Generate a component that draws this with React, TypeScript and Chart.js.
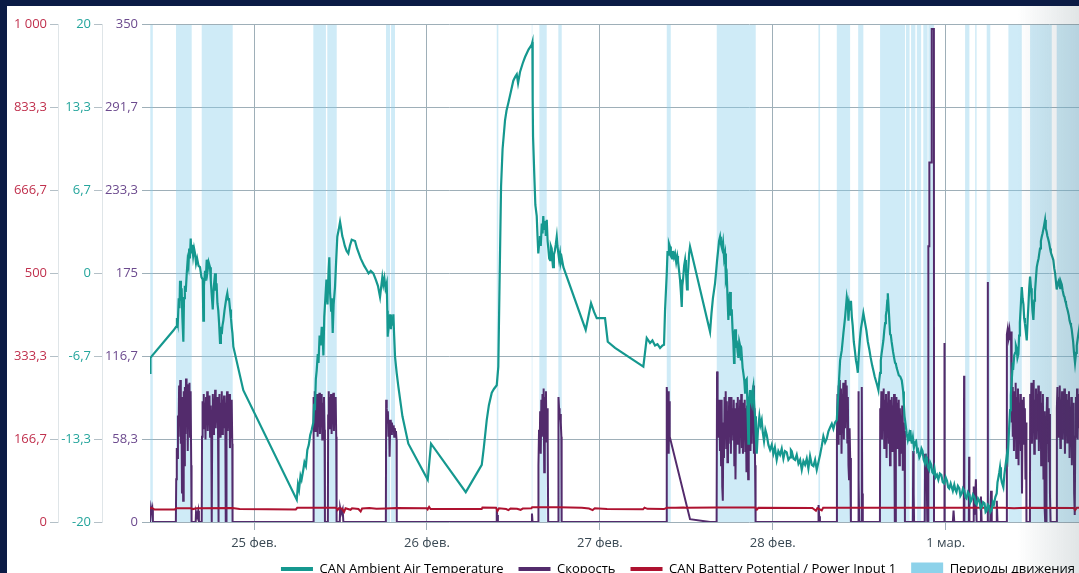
import React, { useEffect, useRef } from 'react';
import { Chart, registerables } from 'chart.js';

Chart.register(...registerables);

// ---- axis / tick data ----
const X_MIN = 9.56; // hours since 24 фев 00:00
const X_MAX = 175.99;
const CANVAS_W = 1342;
const dayTickValues = [24, 48, 72, 96, 120, 144, 168];
const dayTickLabels = ['25 фев.', '26 фев.', '27 фев.', '28 фев.', '1 мар.', '2 мар.', '3 мар.'];

const batteryTickValues = [0, 166.667, 333.333, 500, 666.667, 833.333, 1000];
const batteryTickLabels = ['0', '166,7', '333,3', '500', '666,7', '833,3', '1 000'];
const tempTickValues = [-20, -13.333, -6.667, 0, 6.667, 13.333, 20];
const tempTickLabels = ['-20', '-13,3', '-6,7', '0', '6,7', '13,3', '20'];
const speedTickValues = [0, 58.333, 116.667, 175, 233.333, 291.667, 350];
const speedTickLabels = ['0', '58,3', '116,7', '175', '233,3', '291,7', '350'];

const seriesNames = ['CAN Ambient Air Temperature', 'Скорость', 'CAN Battery Potential / Power Input 1', 'Периоды движения'];

// ---- series data: [hour, value] ----
const tempPoints: [number, number][] = [
  [9.56, -8.0], [9.62, -6.8], [9.75, -6.7], [12.8, -4.6], [13.17, -4.3], [13.3, -3.6], [13.42, -4.0], [13.55, -2.0], [13.65, -2.8], [13.73, -0.6], [13.85, -2.2], [13.95, -1.2], [14.05, -3.5], [14.19, -5.5], [14.28, -2.0], [14.4, -1.0], [14.52, -1.5], [14.66, 0.0], [14.78, 1.0], [14.9, 0.6], [15.0, 2.0], [15.1, 1.2], [15.21, 2.8], [15.3, 1.6], [15.42, 2.3], [15.55, 1.4], [15.68, 2.0], [15.81, 1.6], [15.95, 0.8], [16.1, 1.2], [16.3, 0.6], [16.5, 0.5], [16.7, -0.3], [16.88, -0.5], [16.96, -3.8], [17.05, -1.0], [17.2, 0.2], [17.3, -0.6], [17.43, 1.1], [17.55, 0.2], [17.7, 0.9], [17.89, 0.5], [18.0, -0.6], [18.1, -1.5], [18.27, -2.9], [18.4, -1.2], [18.59, 0.0], [18.7, -1.4], [18.8, -0.8], [18.92, -2.4], [19.04, -3.0], [19.15, -4.0], [19.28, -5.6], [19.4, -4.3], [19.52, -4.9], [19.62, -4.2], [19.74, -3.8], [19.9, -3.0], [20.05, -2.4], [20.18, -1.9], [20.29, -1.6], [20.4, -2.1], [20.52, -2.0], [20.67, -2.9], [20.8, -3.6], [20.92, -4.4], [21.0, -4.8], [21.13, -5.9], [22.51, -9.4], [29.93, -18.2],
  [30.1, -17.0], [30.25, -17.4], [30.45, -16.3], [30.6, -16.6], [30.84, -15.8], [31.0, -15.2], [31.2, -15.5], [31.4, -14.2], [31.6, -13.8], [31.8, -13.0], [32.0, -12.6], [32.23, -12.0], [32.35, -10.5], [32.45, -11.0], [32.58, -8.5], [32.7, -7.8], [32.85, -6.5], [32.95, -7.2], [33.1, -5.0], [33.25, -5.8], [33.4, -4.3], [33.52, -5.0], [33.63, -6.6], [33.75, -3.5], [33.9, -2.0], [34.05, -0.5], [34.2, -2.5], [34.35, 0.2], [34.45, 1.3], [34.55, -1.5], [34.7, -3.0], [34.8, -2.0], [34.92, -4.8], [35.05, -2.5], [35.24, -1.1], [35.4, 1.0], [35.56, 2.95], [35.75, 3.5], [35.94, 4.15], [36.1, 3.6], [36.25, 3.0], [36.4, 2.7], [36.6, 2.2], [36.85, 1.8], [37.09, 1.6], [37.3, 2.2], [37.56, 2.7], [38.02, 2.6], [38.3, 2.0], [38.8, 1.2], [39.3, 0.6], [39.64, 0.27], [39.9, 0.0], [40.2, 0.2], [40.56, 0.0], [40.9, -0.5], [41.2, -1.0], [41.49, -1.9],
  [41.81, -0.3], [41.95, -0.9], [42.1, -0.4], [42.25, -1.2], [42.42, -0.8], [42.5, -3.0], [42.56, -5.1], [42.65, -3.4], [42.75, -4.0], [42.88, -3.3], [43.0, -4.5], [43.1, -3.6], [43.2, -4.2], [43.34, -3.3], [43.45, -5.0], [43.57, -6.7], [43.8, -8.0], [44.03, -9.1], [44.6, -11.5], [45.42, -13.7], [48.11, -16.6], [48.57, -13.7], [53.39, -17.6], [55.61, -15.4], [55.9, -14.0], [56.3, -11.8], [56.6, -10.6], [57.0, -9.6], [57.3, -9.3], [57.69, -9.0], [57.91, -7.5], [58.05, -2.0], [58.29, 7.0], [58.5, 10.0], [58.84, 12.3], [59.05, 13.1], [59.3, 13.7], [59.65, 14.6], [59.99, 15.5], [60.25, 15.8], [60.47, 16.0], [60.65, 15.3], [60.92, 16.2], [61.3, 16.9], [61.62, 17.4], [62.1, 18.0], [62.55, 18.4], [62.64, 18.6], [62.68, 14.0], [62.73, 11.0], [62.91, 7.8], [63.05, 5.5], [63.24, 4.6], [63.35, 3.0], [63.46, 1.6], [63.58, 2.4], [63.69, 3.0], [63.8, 2.2], [63.94, 4.0], [64.05, 3.2], [64.15, 4.6], [64.26, 3.5], [64.4, 4.2], [64.5, 3.0], [64.63, 4.3], [64.75, 2.6], [64.85, 2.0], [64.97, 1.2], [65.09, 1.07], [65.2, 2.2], [65.32, 2.0], [65.42, 1.0], [65.5, 0.5], [65.62, 1.5], [65.75, 1.8], [65.88, 2.3], [66.02, 2.95], [66.12, 2.2], [66.2, 1.8], [66.35, 1.1], [66.48, 1.6], [66.6, 0.9], [66.72, 1.2], [66.94, 0.5], [70.04, -4.55], [70.78, -2.4], [71.2, -3.1], [71.57, -3.6], [72.72, -3.6], [73.1, -5.5], [74.11, -6.0], [78.04, -7.5],
  [78.51, -5.2], [78.97, -5.6], [79.3, -5.4], [79.66, -5.8], [80.0, -5.7], [80.36, -6.0], [80.7, -5.8], [80.91, -5.75], [81.05, -3.0], [81.29, 0.0], [81.4, 1.8], [81.47, 1.5], [81.6, 2.4], [81.74, 2.15], [81.85, 1.4], [82.02, 1.2], [82.15, 1.8], [82.3, 1.3], [82.44, 1.6], [82.6, 0.9], [82.75, 1.4], [82.85, 1.0], [83.0, 0.2], [83.13, -0.5], [83.25, -1.5], [83.37, -2.7], [83.45, -1.0], [83.55, -0.5], [83.7, 0.6], [83.83, 1.07], [83.95, 0.2], [84.1, -1.3], [84.2, -0.2], [84.29, 0.5], [84.4, 1.6], [84.52, 2.15], [87.3, -4.7], [87.5, -3.2], [87.7, -2.0], [87.99, -0.8], [88.15, 0.2], [88.27, 1.0], [88.45, 2.0], [88.55, 2.6], [88.69, 2.95], [88.8, 2.4], [88.97, 2.0], [89.1, 2.5], [89.25, 1.2], [89.38, 1.6], [89.5, -0.5], [89.62, -0.2], [89.74, -2.2], [89.84, -3.75], [89.95, -2.0], [90.07, -1.5], [90.18, -3.4], [90.31, -2.9], [90.42, -4.5], [90.53, -5.5], [90.63, -7.2], [90.7, -5.0], [90.77, -4.5], [90.9, -6.0], [91.0, -5.4], [91.12, -6.3], [91.23, -6.8], [91.35, -5.5], [91.46, -5.8], [91.58, -7.0], [91.7, -6.6], [91.82, -7.6], [91.92, -8.0], [92.05, -8.6], [92.16, -9.6], [92.28, -8.6], [92.39, -8.5], [92.5, -11.0], [92.62, -13.7], [92.7, -11.0], [92.76, -10.0], [92.85, -9.4], [92.97, -10.2], [93.09, -10.5], [93.2, -9.5], [93.31, -9.1], [93.42, -10.5], [93.54, -11.5], [93.66, -13.2], [93.78, -14.5], [93.95, -12.6], [94.15, -11.5], [94.3, -12.2], [94.47, -11.8], [94.62, -12.8], [94.79, -13.5], [94.98, -12.6], [95.17, -13.0], [95.4, -13.8], [95.63, -14.2], [95.86, -13.8], [96.09, -14.5], [96.3, -14.0], [96.55, -15.0], [96.78, -14.3], [97.02, -14.6], [97.25, -14.1], [97.48, -14.9], [97.7, -14.3], [97.94, -14.4], [98.17, -15.0], [98.4, -14.8], [98.52, -14.2], [98.64, -14.3], [98.87, -14.9], [99.1, -15.0], [99.33, -14.6], [99.57, -15.3], [99.8, -15.0], [100.03, -15.8], [100.26, -15.1], [100.49, -15.4], [100.72, -14.9], [100.95, -15.7], [101.18, -14.7], [101.42, -15.4], [101.65, -15.5], [101.88, -15.0], [102.11, -15.8], [102.34, -15.2], [102.57, -14.6], [102.8, -13.9], [103.03, -13.1], [103.27, -13.6], [103.5, -13.3], [103.73, -12.7], [103.96, -12.4], [104.2, -12.1], [104.42, -12.5], [104.65, -12.0], [104.89, -11.8], [105.12, -9.5], [105.35, -7.0], [105.58, -6.2], [105.81, -4.8], [106.05, -3.5], [106.28, -1.9],
  [106.42, -2.4], [106.51, -3.8], [106.62, -2.5], [106.74, -2.9], [106.86, -2.2], [106.98, -3.5], [107.1, -4.2], [107.25, -5.5], [107.4, -6.2], [107.55, -7.0], [107.68, -7.4], [107.81, -8.0], [107.95, -6.5], [108.1, -5.3], [108.25, -4.4], [108.4, -3.9], [108.58, -3.2], [108.7, -3.6], [108.82, -4.0], [109.0, -4.6], [109.2, -5.5], [109.4, -6.1], [109.6, -6.8], [109.8, -7.4], [110.0, -7.9], [110.15, -8.3], [110.3, -8.6], [110.5, -9.0], [110.67, -9.4], [110.8, -8.5], [110.9, -8.0], [111.0, -7.0], [111.1, -6.5], [111.22, -6.0], [111.36, -5.4], [111.48, -4.6], [111.6, -4.0], [111.7, -3.4], [111.8, -3.0], [111.9, -2.2], [111.97, -1.6], [112.05, -2.4], [112.15, -3.4], [112.29, -4.9], [112.4, -5.0], [112.5, -5.5], [112.6, -5.9], [112.7, -6.3], [112.85, -6.8], [112.98, -7.2], [113.1, -7.3], [113.2, -7.6], [113.35, -7.9], [113.5, -8.2], [113.7, -8.3], [113.91, -8.6], [114.0, -9.0], [114.1, -9.5], [114.2, -10.5], [114.3, -11.5], [114.45, -12.2], [114.6, -12.9], [114.75, -13.4], [114.9, -13.0], [115.0, -13.5], [115.1, -12.6], [115.2, -13.3], [115.3, -13.7], [115.45, -13.2], [115.6, -14.0], [115.75, -13.6], [115.9, -13.5], [116.05, -14.3], [116.17, -14.2], [116.35, -14.8], [116.5, -14.6], [116.65, -14.1], [116.8, -14.3], [116.95, -15.0], [117.14, -15.3], [117.3, -14.8], [117.4, -15.0], [117.55, -15.6], [117.7, -15.8], [117.85, -15.2], [118.0, -15.4], [118.15, -16.0], [118.3, -16.1], [118.45, -15.7], [118.6, -16.4], [118.8, -16.2], [118.99, -16.6], [119.2, -16.1], [119.4, -16.2], [119.6, -16.8], [119.8, -16.9], [120.0, -16.4], [120.2, -16.7], [120.35, -17.2], [120.5, -17.3], [120.7, -16.9], [120.85, -17.2], [121.0, -17.5], [121.2, -17.0], [121.35, -17.4], [121.5, -17.6], [121.7, -17.1], [121.9, -17.3], [122.05, -17.9], [122.24, -17.7], [122.4, -17.3], [122.6, -17.5], [122.75, -18.0], [122.9, -18.1], [123.1, -17.6], [123.3, -17.8], [123.45, -18.4], [123.62, -18.2], [123.8, -17.8], [124.0, -18.0], [124.15, -18.5], [124.3, -18.6], [124.5, -18.1], [124.7, -18.3], [124.85, -18.9], [125.01, -18.8], [125.2, -18.4], [125.4, -18.5], [125.55, -19.2], [125.7, -19.1], [125.85, -18.6], [126.0, -18.7], [126.2, -19.2], [126.4, -19.0], [126.55, -18.4], [126.7, -18.6], [126.9, -18.0], [127.09, -17.7], [127.2, -16.8], [127.3, -16.5], [127.45, -16.0], [127.55, -15.6], [127.68, -16.4], [127.8, -16.8], [128.01, -17.2], [128.15, -16.2], [128.3, -15.5], [128.5, -14.6], [128.6, -14.9], [128.71, -13.7], [128.85, -12.0], [128.95, -11.0], [129.05, -9.8], [129.18, -8.6], [129.3, -7.4], [129.4, -7.5], [129.52, -6.6], [129.64, -6.4], [129.75, -5.8], [129.85, -6.0], [129.97, -6.8], [130.1, -6.5], [130.2, -5.0], [130.3, -4.0], [130.45, -2.4], [130.57, -1.1], [130.68, -2.0], [130.8, -2.5], [130.9, -3.6], [131.0, -4.0], [131.12, -4.6], [131.26, -5.4], [131.38, -3.8], [131.5, -2.5], [131.6, -1.2], [131.72, -0.27], [131.85, -1.2], [131.95, -2.0], [132.05, -3.0], [132.18, -3.75], [132.3, -2.2], [132.4, -1.5], [132.52, -0.5], [132.65, 0.5], [132.78, 0.9], [132.9, 1.2], [133.0, 1.6], [133.1, 2.0], [133.22, 2.6], [133.34, 2.95], [133.45, 3.2], [133.55, 3.5], [133.68, 3.9], [133.8, 4.3], [133.9, 3.6], [134.0, 3.4], [134.12, 3.0], [134.26, 2.7], [134.38, 2.4], [134.5, 2.0], [134.6, 1.7], [134.7, 1.5], [134.82, 1.3], [134.95, 1.07], [135.08, 0.4], [135.2, 0.0], [135.32, -0.7], [135.42, -1.3], [135.55, -0.8], [135.7, -0.6], [135.8, -1.0], [135.9, -1.2], [136.0, -0.7], [136.12, -0.9], [136.25, -1.4], [136.4, -1.8], [136.5, -1.9], [136.6, -2.2], [136.7, -2.4], [136.81, -2.7], [136.95, -3.0], [137.1, -3.4], [137.2, -3.8], [137.3, -4.0], [137.4, -4.2], [137.5, -4.5], [137.6, -5.0], [137.7, -5.5], [137.82, -6.4], [137.96, -7.2], [138.1, -6.4], [138.2, -5.8], [138.3, -5.4], [138.42, -4.9], [138.8, -3.5], [139.3, -5.0], [140.5, -6.5], [142.0, -8.0],
];

const speedPoints: [number, number][] = [
  [9.56, 0], [9.68, 0], [9.7, 10], [9.8, 7], [9.88, 9], [9.96, 0],
  [13.15, 0], [13.2, 30], [13.28, 52], [13.36, 45], [13.44, 75], [13.52, 60], [13.6, 96], [13.68, 72], [13.76, 100], [13.84, 55], [13.92, 88], [14.0, 20], [14.08, 70], [14.16, 15], [14.24, 92], [14.32, 40], [14.4, 95], [14.48, 62], [14.56, 101], [14.64, 78], [14.72, 97], [14.8, 50], [14.88, 94], [14.96, 74], [15.04, 98], [15.12, 60], [15.2, 92], [15.28, 40], [15.33, 0],
  [15.9, 0], [15.95, 7], [16.1, 4], [16.25, 8], [16.35, 0],
  [16.74, 0], [16.78, 60], [16.86, 85], [16.94, 70], [17.02, 90], [17.1, 66], [17.18, 84], [17.26, 58], [17.34, 88], [17.42, 72], [17.5, 92], [17.58, 64], [17.66, 86], [17.74, 70], [17.82, 89], [17.9, 60], [17.98, 82], [18.06, 68], [18.1, 0], [18.16, 0], [18.2, 70], [18.28, 90], [18.36, 62], [18.44, 85], [18.52, 75], [18.6, 93], [18.68, 66], [18.76, 86], [18.84, 70], [18.92, 88], [19.0, 64], [19.03, 0], [19.08, 0], [19.12, 72], [19.2, 90], [19.28, 60], [19.36, 84], [19.44, 70], [19.52, 92], [19.6, 62], [19.68, 86], [19.76, 74], [19.84, 89], [19.92, 66], [20.0, 84], [20.06, 70], [20.09, 0], [20.14, 0], [20.18, 78], [20.26, 92], [20.34, 64], [20.42, 85], [20.5, 72], [20.58, 90], [20.66, 52], [20.74, 80], [20.82, 60], [20.9, 86], [20.98, 55], [21.02, 0],
  [32.21, 0], [32.27, 88], [32.35, 70], [32.43, 92], [32.51, 64], [32.59, 86], [32.67, 72], [32.75, 90], [32.83, 60], [32.91, 85], [32.99, 68], [33.07, 91], [33.15, 62], [33.23, 87], [33.31, 74], [33.39, 90], [33.47, 58], [33.55, 84], [33.63, 70], [33.71, 88], [33.79, 65], [33.84, 0], [34.25, 0], [34.29, 75], [34.37, 92], [34.45, 66], [34.53, 88], [34.61, 70], [34.69, 90], [34.77, 62], [34.85, 86], [34.93, 72], [35.01, 91], [35.09, 64], [35.17, 85], [35.25, 70], [35.33, 88], [35.41, 60], [35.46, 0],
  [35.9, 0], [35.95, 10], [36.1, 6], [36.3, 9], [36.4, 0],
  [42.3, 0], [42.34, 86], [42.42, 80], [42.5, 70], [42.58, 78], [42.66, 60], [42.74, 72], [42.82, 46], [42.9, 68], [42.98, 72], [43.06, 62], [43.14, 70], [43.22, 66], [43.3, 64], [43.38, 68], [43.46, 60], [43.54, 66], [43.62, 62], [43.7, 64], [43.78, 58], [43.81, 0],
  [57.6, 0], [57.69, 9], [57.75, 5], [57.85, 0],
  [62.5, 0], [62.58, 6], [62.66, 0],
  [63.44, 0], [63.48, 40], [63.56, 65], [63.64, 50], [63.72, 78], [63.8, 48], [63.88, 86], [63.96, 60], [64.04, 90], [64.12, 70], [64.2, 94], [64.28, 35], [64.36, 88], [64.44, 66], [64.52, 92], [64.6, 56], [64.68, 80], [64.76, 60], [64.83, 0],
  [66.22, 0], [66.26, 88], [66.34, 80], [66.42, 72], [66.5, 76], [66.58, 70], [66.66, 60], [66.7, 0],
  [81.25, 0], [81.29, 95], [81.35, 88], [81.42, 60], [81.5, 92], [81.56, 48], [81.62, 85], [81.68, 72], [81.72, 60], [84.52, 2], [87.3, 0],
  [88.21, 0], [88.27, 106], [88.35, 80], [88.43, 60], [88.51, 71], [88.59, 86], [88.67, 50], [88.75, 82], [88.83, 40], [88.91, 86], [88.99, 25], [89.07, 15], [89.15, 70], [89.23, 45], [89.31, 88], [89.39, 60], [89.47, 92], [89.55, 52], [89.63, 85], [89.71, 42], [89.79, 78], [89.87, 55], [89.95, 88], [90.03, 62], [90.11, 84], [90.19, 48], [90.27, 88], [90.35, 64], [90.43, 80], [90.51, 58], [90.59, 86], [90.67, 40], [90.75, 80], [90.83, 30], [90.91, 72], [90.99, 84], [91.07, 55], [91.15, 88], [91.23, 62], [91.31, 80], [91.39, 48], [91.47, 86], [91.55, 60], [91.63, 90], [91.71, 52], [91.79, 78], [91.87, 48], [91.95, 84], [92.03, 66], [92.11, 86], [92.19, 50], [92.27, 80], [92.35, 35], [92.43, 82], [92.51, 60], [92.59, 30], [92.67, 86], [92.75, 64], [92.83, 88], [92.91, 50], [92.99, 76], [93.07, 55], [93.15, 92], [93.23, 66], [93.31, 96], [93.39, 48], [93.47, 80], [93.55, 40], [93.62, 0],
  [102.3, 0], [102.36, 12], [102.45, 4], [102.55, 0],
  [104.87, 0], [104.91, 60], [104.99, 90], [105.07, 55], [105.15, 96], [105.23, 70], [105.31, 100], [105.39, 62], [105.47, 94], [105.55, 48], [105.63, 90], [105.71, 75], [105.79, 98], [105.87, 58], [105.95, 92], [106.03, 66], [106.11, 100], [106.19, 80], [106.27, 96], [106.35, 56], [106.43, 88], [106.51, 40], [106.59, 30], [106.67, 66], [106.75, 45], [106.85, 0],
  [107.84, 0], [107.88, 92], [107.95, 30], [108.0, 0], [108.3, 0], [108.36, 95], [108.42, 20], [108.5, 0],
  [110.88, 0], [110.92, 80], [111.0, 64], [111.08, 92], [111.16, 58], [111.24, 88], [111.32, 70], [111.4, 94], [111.48, 52], [111.56, 86], [111.64, 60], [111.72, 90], [111.8, 45], [111.88, 84], [111.96, 66], [112.04, 92], [112.12, 55], [112.2, 80], [112.28, 40], [112.36, 86], [112.44, 62], [112.52, 88], [112.6, 50], [112.68, 82], [112.76, 58], [112.84, 90], [112.92, 44], [112.97, 0], [113.05, 0], [113.09, 70], [113.17, 88], [113.25, 52], [113.33, 84], [113.41, 60], [113.49, 86], [113.57, 40], [113.65, 80], [113.73, 55], [113.81, 75], [113.89, 48], [113.97, 82], [114.05, 36], [114.13, 70], [114.21, 50], [114.29, 64], [114.35, 0],
  [115.45, 0], [115.5, 50], [115.56, 20], [115.62, 0],
  [117.1, 0], [117.15, 48], [117.25, 30], [117.35, 46], [117.45, 0],
  [117.58, 0], [117.6, 194], [117.72, 194], [117.74, 253], [118.05, 253], [118.07, 347], [118.37, 347], [118.39, 0],
  [119.78, 0], [119.82, 126], [119.86, 0],
  [121.0, 0], [121.1, 8], [121.2, 0],
  [122.52, 0], [122.56, 103], [122.6, 0],
  [123.22, 0], [123.26, 46], [123.3, 0],
  [123.8, 0], [123.9, 25], [124.0, 5], [124.2, 30], [124.3, 0],
  [124.8, 0], [124.9, 18], [125.0, 0],
  [125.8, 0], [125.84, 169], [125.88, 0],
  [126.2, 0], [126.3, 22], [126.4, 0],
  [127.0, 0], [127.1, 15], [127.2, 0],
  [128.46, 0], [128.5, 132], [128.62, 136], [128.74, 130], [128.86, 135], [128.98, 128], [129.08, 134], [129.16, 70], [129.24, 95], [129.32, 60], [129.4, 92], [129.48, 50], [129.56, 85], [129.64, 66], [129.72, 98], [129.8, 45], [129.88, 88], [129.96, 60], [130.04, 94], [130.12, 40], [130.2, 84], [130.28, 62], [130.36, 90], [130.44, 50], [130.52, 86], [130.6, 20], [130.68, 78], [130.76, 55], [130.84, 88], [130.92, 64], [131.0, 80], [131.08, 30], [131.16, 70], [131.22, 0],
  [131.7, 0], [131.74, 90], [131.82, 66], [131.9, 98], [131.98, 55], [132.06, 92], [132.14, 70], [132.22, 100], [132.3, 48], [132.38, 86], [132.46, 62], [132.54, 94], [132.62, 58], [132.7, 90], [132.78, 72], [132.86, 96], [132.94, 50], [133.02, 88], [133.1, 64], [133.18, 92], [133.26, 40], [133.34, 84], [133.42, 60], [133.5, 90], [133.58, 30], [133.66, 78], [133.74, 10], [133.82, 0], [133.95, 0], [134.0, 70], [134.08, 88], [134.16, 55], [134.24, 80], [134.32, 42], [134.4, 76], [134.48, 20], [134.56, 0],
  [135.4, 0], [135.44, 80], [135.52, 95], [135.6, 60], [135.68, 88], [135.76, 70], [135.84, 96], [135.92, 52], [136.0, 86], [136.08, 64], [136.16, 92], [136.24, 58], [136.32, 84], [136.4, 70], [136.48, 94], [136.56, 48], [136.64, 82], [136.72, 66], [136.8, 90], [136.88, 56], [136.96, 86], [137.04, 72], [137.12, 92], [137.2, 45], [137.28, 80], [137.36, 60], [137.44, 88], [137.52, 40], [137.6, 76], [137.68, 62], [137.76, 84], [137.84, 20], [137.92, 5], [138.0, 60], [138.08, 88], [138.16, 64], [138.24, 94], [138.32, 58], [138.4, 86], [138.48, 66], [138.56, 90], [139.0, 70], [139.3, 0],
  [175.99, 0],
];

const batteryPoints: [number, number][] = [
  [9.56, 27.5], [9.9, 27.8], [10.2, 25.0], [13.0, 25.0], [13.17, 27.5], [15.3, 27.5], [15.5, 26.0], [16.0, 27.8], [21.0, 28.0], [22.0, 26.0], [29.8, 25.2], [30.0, 28.6], [35.4, 28.8], [35.6, 24.0], [35.8, 28.0], [36.2, 27.0], [36.5, 20.5], [36.7, 27.5], [37.4, 24.5], [37.6, 27.5], [38.5, 26.0], [38.8, 21.0], [39.0, 27.0], [40.0, 28.0], [41.0, 26.5], [42.3, 27.0], [43.8, 28.0], [48.0, 27.5], [48.1, 25.5], [48.3, 30.5], [48.5, 26.0], [55.6, 26.0], [55.7, 29.0], [57.6, 28.5], [57.8, 22.0], [58.0, 27.5], [59.0, 26.0], [59.3, 24.0], [59.6, 27.0], [60.5, 26.5], [61.0, 24.5], [61.3, 27.0], [62.5, 27.5], [62.6, 29.5], [66.3, 29.5], [69.5, 28.5], [70.5, 27.0], [71.0, 24.0], [71.3, 27.5], [73.0, 26.0], [78.0, 25.5], [78.2, 28.8], [78.6, 26.5], [80.9, 26.0], [81.3, 28.5], [82.5, 28.5], [83.6, 29.0], [84.0, 28.5], [88.2, 29.0], [93.6, 29.0], [93.8, 25.0], [94.0, 28.5], [101.5, 28.0], [102.0, 22.5], [102.2, 28.0], [102.8, 23.5], [103.0, 28.5], [110.0, 28.5], [118.0, 28.5], [128.0, 28.5], [129.5, 27.5], [131.0, 28.5], [137.8, 28.0], [138.0, 24.0], [138.2, 28.5], [175.99, 28.5],
];

const moveStarts = [9.6, 13.17, 16.74, 32.23, 34.17, 42.32, 43.02, 57.69, 62.55, 63.6, 66.24, 81.29, 88.23, 102.34, 104.89, 107.86, 110.9, 114.5, 115.2, 116.0, 116.9, 117.6, 122.7, 124.1, 125.7, 128.71, 131.72, 135.42];
const moveEnds = [9.95, 15.35, 21.04, 33.98, 35.48, 42.88, 43.57, 57.91, 62.64, 64.63, 66.71, 81.85, 93.64, 102.57, 106.74, 108.58, 114.37, 115.0, 115.8, 116.6, 117.5, 118.4, 123.3, 124.3, 126.2, 130.57, 134.73, 140.0];

// ---- colours ----
const TEAL = '#15988f';
const PURPLE = '#532b6c';
const RED = '#ae1230';
const BAND = 'rgba(135, 206, 235, 0.4)';
const BAND_LEGEND = '#8dd2ea';
const GRID = '#9eafb8';

const toXY = (pts: [number, number][]) => pts.map(([x, y]) => ({ x, y }));

function bandPolygon() {
  const out: { x: number; y: number }[] = [{ x: X_MIN, y: 0 }];
  moveStarts.forEach((s, i) => {
    const e = moveEnds[i];
    out.push({ x: s, y: 0 }, { x: s, y: 350 }, { x: e, y: 350 }, { x: e, y: 0 });
  });
  out.push({ x: X_MAX, y: 0 });
  return out;
}

const setTicks = (values: number[]) => (scale: any) => {
  scale.ticks = values.map((v) => ({ value: v }));
};

export default function App() {
  const ref = useRef<HTMLCanvasElement | null>(null);

  useEffect(() => {
    if (!ref.current) return;
    Chart.defaults.font.family = "'Open Sans', sans-serif";
    Chart.defaults.font.size = 13;
    const chart = new Chart(ref.current, {
      type: 'line',
      data: {
        datasets: [
          { label: seriesNames[0], data: toXY(tempPoints), yAxisID: 'yT', borderColor: TEAL, backgroundColor: TEAL, borderWidth: 2.2, pointRadius: 0, tension: 0, order: 0 },
          { label: seriesNames[1], data: toXY(speedPoints), yAxisID: 'yS', borderColor: PURPLE, backgroundColor: PURPLE, borderWidth: 2, pointRadius: 0, tension: 0, order: 2 },
          { label: seriesNames[2], data: toXY(batteryPoints), yAxisID: 'yB', borderColor: RED, backgroundColor: RED, borderWidth: 2, pointRadius: 0, tension: 0, order: 1 },
          { label: seriesNames[3], data: bandPolygon(), yAxisID: 'yS', borderWidth: 0, borderColor: 'rgba(0,0,0,0)', backgroundColor: BAND, fill: 'origin', pointRadius: 0, tension: 0, order: 3 },
        ],
      },
      options: {
        responsive: false,
        animation: false,
        events: [],
        layout: { padding: { top: 18.7, bottom: 20.5, left: 0, right: 0 } },
        plugins: {
          tooltip: { enabled: false },
          legend: {
            position: 'bottom',
            labels: {
              usePointStyle: true,
              pointStyleWidth: 32,
              boxHeight: 13,
              padding: 15,
              color: '#333333',
              font: { size: 13 },
              generateLabels: () => [
                { text: seriesNames[0], fillStyle: TEAL, strokeStyle: TEAL, lineWidth: 4, pointStyle: 'line', hidden: false, datasetIndex: 0 },
                { text: seriesNames[1], fillStyle: PURPLE, strokeStyle: PURPLE, lineWidth: 4, pointStyle: 'line', hidden: false, datasetIndex: 1 },
                { text: seriesNames[2], fillStyle: RED, strokeStyle: RED, lineWidth: 4, pointStyle: 'line', hidden: false, datasetIndex: 2 },
                { text: seriesNames[3], fillStyle: BAND_LEGEND, strokeStyle: BAND_LEGEND, lineWidth: 0, pointStyle: 'rect', hidden: false, datasetIndex: 3 },
              ] as any,
            },
          },
        },
        scales: {
          x: {
            type: 'linear',
            position: 'bottom',
            min: X_MIN,
            max: X_MAX,
            afterBuildTicks: setTicks(dayTickValues),
            afterFit: (s: any) => { s.height = 25.5; },
            ticks: { color: '#3a4954', padding: 5, autoSkip: false, maxRotation: 0, callback: (_v: any, i: number) => dayTickLabels[i] },
            grid: { color: GRID, tickLength: 8, tickColor: GRID },
            border: { display: false },
          },
          yB: {
            type: 'linear', position: 'left', weight: 3, min: 0, max: 1000,
            afterBuildTicks: setTicks(batteryTickValues),
            afterFit: (s: any) => { s.width = 51; },
            ticks: { color: '#c0304d', padding: 3, callback: (_v: any, i: number) => batteryTickLabels[i] },
            grid: { drawOnChartArea: false, tickLength: 8, tickColor: '#b4c0c7' },
            border: { display: true, color: '#dfe5e8', width: 1 },
          },
          yT: {
            type: 'linear', position: 'left', weight: 2, min: -20, max: 20,
            afterBuildTicks: setTicks(tempTickValues),
            afterFit: (s: any) => { s.width = 44; },
            ticks: { color: '#25a59c', padding: 3, callback: (_v: any, i: number) => tempTickLabels[i] },
            grid: { drawOnChartArea: false, tickLength: 8, tickColor: '#b4c0c7' },
            border: { display: true, color: '#dfe5e8', width: 1 },
          },
          yS: {
            type: 'linear', position: 'left', weight: 1, min: 0, max: 350,
            afterBuildTicks: setTicks(speedTickValues),
            afterFit: (s: any) => { s.width = 48; },
            ticks: { color: '#6c4a8e', padding: 4, callback: (_v: any, i: number) => speedTickLabels[i] },
            grid: { color: GRID, tickLength: 8, tickColor: GRID },
            border: { display: false },
          },
        },
      } as any,
    });
    return () => chart.destroy();
  }, []);

  return (
    <div style={{ position: 'relative', width: 1079, height: 573, background: '#0b1b45', overflow: 'hidden' }}>
      <style>{`html,body{margin:0;padding:0;overflow:hidden;}`}</style>
      <div style={{ position: 'absolute', left: 7, top: 6, width: 1072, height: 567, background: '#ffffff', overflow: 'hidden' }}>
        <canvas ref={ref} width={CANVAS_W} height={600} style={{ display: 'block', width: CANVAS_W, height: 600 }} />
        <div
          style={{
            position: 'absolute', top: 0, right: 0, width: 62, height: '100%', pointerEvents: 'none',
            background: 'linear-gradient(to right, rgba(40,70,80,0) 0%, rgba(40,70,80,0.14) 100%)',
          }}
        />
      </div>
    </div>
  );
}
